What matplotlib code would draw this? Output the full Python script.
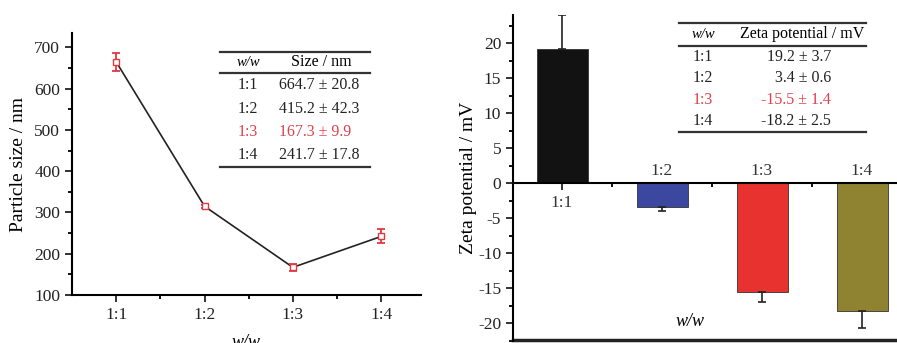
import numpy as np
import matplotlib.pyplot as plt
from matplotlib.lines import Line2D

plt.rcParams['font.family'] = ['Liberation Serif', 'DejaVu Serif']
plt.rcParams['axes.unicode_minus'] = False

# data
ratios = ['1:1', '1:2', '1:3', '1:4']
size_nm = [665, 315, 167, 242]
size_err = [21, 4, 9, 17]
zeta_mv = [19.2, -3.4, -15.5, -18.2]
zeta_err = [4.8, 0.6, 1.4, 2.5]
bar_colors = ['#121212', '#3c47a0', '#e8322f', '#8f8332']

# table texts
size_table = ['664.7 \u00b1 20.8', '415.2 \u00b1 42.3', '167.3 \u00b1 9.9', '241.7 \u00b1 17.8']
zeta_table = ['19.2 \u00b1 3.7', '3.4 \u00b1 0.6', '-15.5 \u00b1 1.4', '-18.2 \u00b1 2.5']
red_row = 2

W, H = 897, 343
fig = plt.figure(figsize=(W / 100, H / 100), dpi=100)
x = np.arange(1, len(ratios) + 1)

# ---- left: particle size ----
ax1 = fig.add_axes([72 / W, 1 - 295 / H, (421 - 72) / W, (295 - 33) / H])
ax1.plot(x, size_nm, color='#222222', lw=1.2, zorder=2)
ax1.errorbar(x, size_nm, yerr=size_err, fmt='s', ms=5, mfc='white', mec='#e03a40',
             ecolor='#e03a40', elinewidth=1.3, capsize=3, capthick=1.3, zorder=3)
ax1.set_xlim(0.5, 4.45)
ax1.set_ylim(100, 735)
ax1.set_yticks(range(100, 701, 100))
ax1.set_yticks(range(150, 701, 100), minor=True)
ax1.set_xticks(x)
ax1.set_xticks(x[:-1] + 0.5, minor=True)
ax1.set_xticklabels(ratios)
ax1.set_xlabel('w/w', style='italic', fontsize=13, labelpad=8)
ax1.set_ylabel('Particle size / nm', fontsize=14, labelpad=5)
for s in ['top', 'right']:
    ax1.spines[s].set_visible(False)
for s in ['left', 'bottom']:
    ax1.spines[s].set_linewidth(1.5)
ax1.tick_params(which='major', length=5, width=1.3, labelsize=12.5, colors='#222222')
ax1.tick_params(which='minor', length=3, width=1.3)

# ---- right: zeta potential ----
ax2 = fig.add_axes([513 / W, 1 - 341 / H, (W - 513) / W, (341 - 15) / H])
zv = np.array(zeta_mv)
ze = np.array(zeta_err)
lower = np.where(zv < 0, ze, 0)
upper = np.where(zv > 0, ze, 0)
ax2.bar(x, zv, width=0.51, color=bar_colors, edgecolor='#333333', lw=0.6, zorder=2)
ax2.errorbar(x, zv, yerr=[lower, upper], fmt='none', ecolor='#222222',
             elinewidth=1.2, capsize=3, capthick=1.2, zorder=3)
ax2.set_xlim(0.51, 4.35)
ax2.set_ylim(-22.33, 24.04)
ax2.set_yticks(range(-20, 21, 5))
ax2.set_yticks(np.arange(-22.5, 24, 2.5), minor=True)
ax2.set_xticks(x)
ax2.set_xticks(x[:-1] + 0.5, minor=True)
ax2.set_xticklabels([])
ax2.spines['bottom'].set_position(('data', 0))
ax2.spines['top'].set_visible(False)
ax2.spines['right'].set_visible(False)
for s in ['left', 'bottom']:
    ax2.spines[s].set_linewidth(1.5)
ax2.axhline(-22.33, color='#222222', lw=2.5, clip_on=False)
ax2.tick_params(which='major', length=5, width=1.3, labelsize=12.5, colors='#222222')
ax2.tick_params(which='minor', length=3, width=1.3)
ax2.set_ylabel('Zeta potential / mV', fontsize=14, labelpad=1)
for xi, v, lab in zip(x, zv, ratios):
    off = -14 if v > 0 else 9
    ax2.annotate(lab, (xi, 0), xytext=(0, off), textcoords='offset points',
                 ha='center', va='center', fontsize=12.5, color='#333333')
ax2.text(2.28, -19.7, 'w/w', style='italic', fontsize=13, ha='center', va='center')


# ---- inset tables ----
def fig_line(x0, x1, y):
    fig.add_artist(Line2D([x0 / W, x1 / W], [1 - y / H, 1 - y / H], color='#333333', lw=1.6))


def table(x0, x1, ys, c1, c2, c2_ha, head2, vals, rows_y):
    fig_line(x0, x1, ys[0])
    fig_line(x0, x1, ys[1])
    fig_line(x0, x1, ys[2])
    hy = (ys[0] + ys[1]) / 2
    fig.text(c1 / W, 1 - hy / H, 'w/w', style='italic', fontsize=10.5, ha='center', va='center')
    fig.text(head2[1] / W, 1 - hy / H, head2[0], fontsize=11.5, ha='center', va='center')
    for i, (r, v) in enumerate(zip(ratios, vals)):
        col = '#e0404a' if i == red_row else '#222222'
        fig.text(c1 / W, 1 - rows_y[i] / H, r, fontsize=11.5, ha='center', va='center', color=col)
        fig.text(c2 / W, 1 - rows_y[i] / H, v, fontsize=11.5, ha=c2_ha, va='center', color=col)


table(220, 370, [52, 73, 167], 248, 279, 'left', ('Size / nm', 321), size_table, [85, 109, 132, 155])
table(679, 866, [23, 46, 132], 703, 831, 'right', ('Zeta potential / mV', 802), zeta_table, [57, 78, 100, 121])

fig.savefig('out.png', dpi=100)
